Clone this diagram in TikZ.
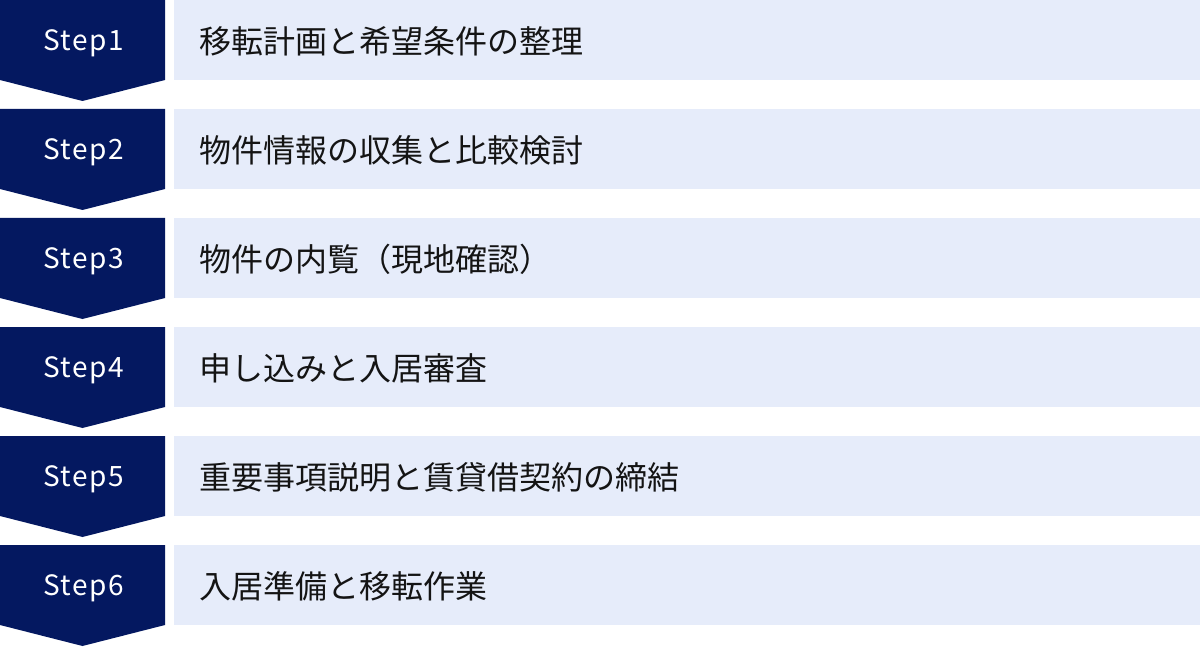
\documentclass[tikz,border=0pt]{standalone}
\usepackage{fontspec}
\setmainfont{Noto Sans CJK JP}
\newfontfamily\stepfont[LetterSpace=5]{Noto Sans CJK JP}
\definecolor{navy}{RGB}{4,24,96}
\definecolor{pale}{RGB}{230,236,250}
\definecolor{ink}{RGB}{20,20,20}
\tikzset{
  stepshape/.style={fill=navy, draw=none},
  labelbox/.style={fill=pale, draw=none},
  steptext/.style={text=white, font=\stepfont\fontsize{28}{34}\selectfont, inner sep=0pt},
  itemtext/.style={text=ink, font=\fontsize{32}{38}\selectfont, anchor=west, inner sep=0pt}
}
\begin{document}
\begin{tikzpicture}[x=1pt,y=-1pt]
\useasboundingbox (0,0) rectangle (1200,647);
\foreach \i/\t in {0/移転計画と希望条件の整理,1/物件情報の収集と比較検討,2/物件の内覧（現地確認）,3/申し込みと入居審査,4/重要事項説明と賃貸借契約の締結,5/入居準備と移転作業}{
  \pgfmathsetmacro{\y}{109*\i}
  \pgfmathtruncatemacro{\n}{\i+1}
  \fill[stepshape] (0,\y) -- (165,\y) -- (165,\y+80) -- (82.5,\y+101) -- (0,\y+80) -- cycle;
  \fill[labelbox] (174,\y) rectangle (1200,\y+80);
  \node[steptext] (s\n) at (83.5,\y+43) {Step\n};
  \node[itemtext] (t\n) at (199,\y+41) {\t};
}
\end{tikzpicture}
\end{document}
